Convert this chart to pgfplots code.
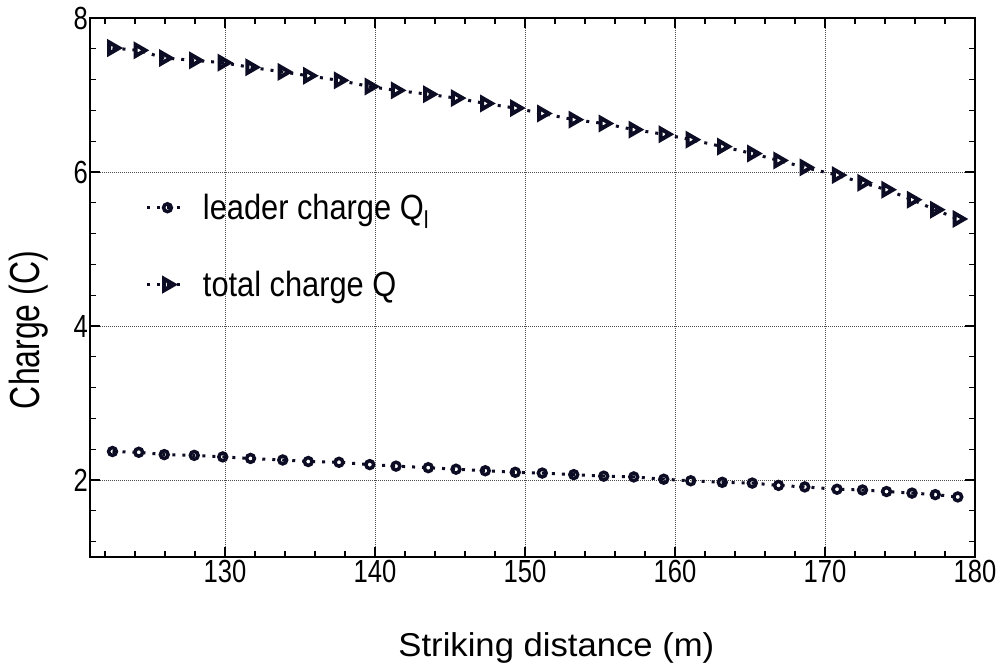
\documentclass[border=0pt]{standalone}
\usepackage{fontspec}
\setmainfont{Liberation Sans}
\newfontfamily\tickfont{Liberation Sans}[FakeStretch=0.80]
\newfontfamily\ylabfont{Liberation Sans}[FakeStretch=0.76]
\newfontfamily\xlabfont{Liberation Sans}[FakeStretch=1.05]
\newfontfamily\legfont{Liberation Sans}[FakeStretch=0.88]
\usepackage{pgfplots}
\pgfplotsset{compat=1.18}
\definecolor{navy}{RGB}{12,12,36}

\begin{document}
\begin{tikzpicture}
\begin{axis}[
  scale only axis, width=885pt, height=539pt,
  xmin=121, xmax=180, ymin=1, ymax=8,
  xtick={130,140,150,160,170,180}, ytick={2,4,6,8},
  minor xtick={122,124,126,128,132,134,136,138,142,144,146,148,152,154,156,158,162,164,166,168,172,174,176,178},
  minor ytick={1.2,1.6,2.4,2.8,3.2,3.6,4.4,4.8,5.2,5.6,6.4,6.8,7.2,7.6},
  tick align=inside, major tick length=10pt, minor tick length=6pt,
  every tick/.style={black, line width=1.2pt},
  axis line style={line width=1.6pt},
  xmajorgrids, ymajorgrids,
  major grid style={dash pattern=on 1pt off 1pt, black!70, line width=0.7pt},
  /pgf/number format/assume math mode=true,
  ticklabel style={font=\fontsize{32}{32}\selectfont\tickfont},
  yticklabel style={inner sep=2pt},
  xlabel={Striking distance (m)}, ylabel={Charge (C)},
  xlabel style={font=\fontsize{33}{33}\selectfont\xlabfont, at={(axis description cs:0.527,-0.169)}, anchor=center},
  ylabel style={font=\fontsize{42}{42}\selectfont\ylabfont, at={(axis description cs:-0.069,0.421)}, anchor=center},
  legend style={draw=none, fill=none, at={(axis description cs:0.063,0.677)}, anchor=north west,
    font=\fontsize{35}{40}\selectfont\legfont, row sep=46pt, inner sep=0pt,
    /tikz/every odd column/.append style={column sep=12pt}},
  legend cell align=left,
  legend image code/.code={\draw[mark repeat=2,mark phase=2,#1] plot coordinates {(0pt,0pt) (20pt,0pt) (40pt,0pt)};},
]
\addplot[color=navy, line width=3pt, dash pattern=on 3pt off 7pt, mark=o, mark size=3.9pt,
  mark options={solid, line width=3.5pt, fill=white}] coordinates {
(122.50,2.37) (124.25,2.36) (125.95,2.33) (127.95,2.32) (129.85,2.30) (131.70,2.28)
(133.85,2.26) (135.55,2.24) (137.60,2.23) (139.65,2.20) (141.40,2.18) (143.55,2.16)
(145.40,2.14) (147.35,2.12) (149.35,2.10) (151.15,2.09) (153.25,2.07) (155.25,2.05)
(157.25,2.04) (159.25,2.01) (161.05,1.99) (163.15,1.97) (165.15,1.96) (166.90,1.93)
(168.65,1.91) (170.80,1.88) (172.50,1.87) (174.10,1.85) (175.80,1.83) (177.35,1.81)
(178.85,1.78)};
\addlegendentry{leader charge Q\textsubscript{l}}
\addplot[color=navy, line width=3pt, dash pattern=on 3pt off 7pt, mark=triangle, mark size=6.5pt,
  mark options={solid, rotate=-90, line width=4pt, fill=white}] coordinates {
(122.50,7.61) (124.25,7.58) (125.95,7.48) (127.95,7.45) (129.85,7.42) (131.70,7.36)
(133.85,7.30) (135.55,7.25) (137.60,7.19) (139.65,7.11) (141.40,7.06) (143.55,7.01)
(145.40,6.96) (147.35,6.89) (149.35,6.83) (151.15,6.76) (153.25,6.68) (155.25,6.63)
(157.25,6.55) (159.25,6.49) (161.05,6.42) (163.15,6.33) (165.15,6.24) (166.90,6.15)
(168.65,6.06) (170.80,5.96) (172.50,5.86) (174.10,5.77) (175.80,5.64) (177.35,5.51)
(178.85,5.39)};
\addlegendentry{total charge Q}
\end{axis}
\pgfresetboundingbox
\path (-90pt,-114pt) rectangle (913pt,557pt);
\end{tikzpicture}
\end{document}
